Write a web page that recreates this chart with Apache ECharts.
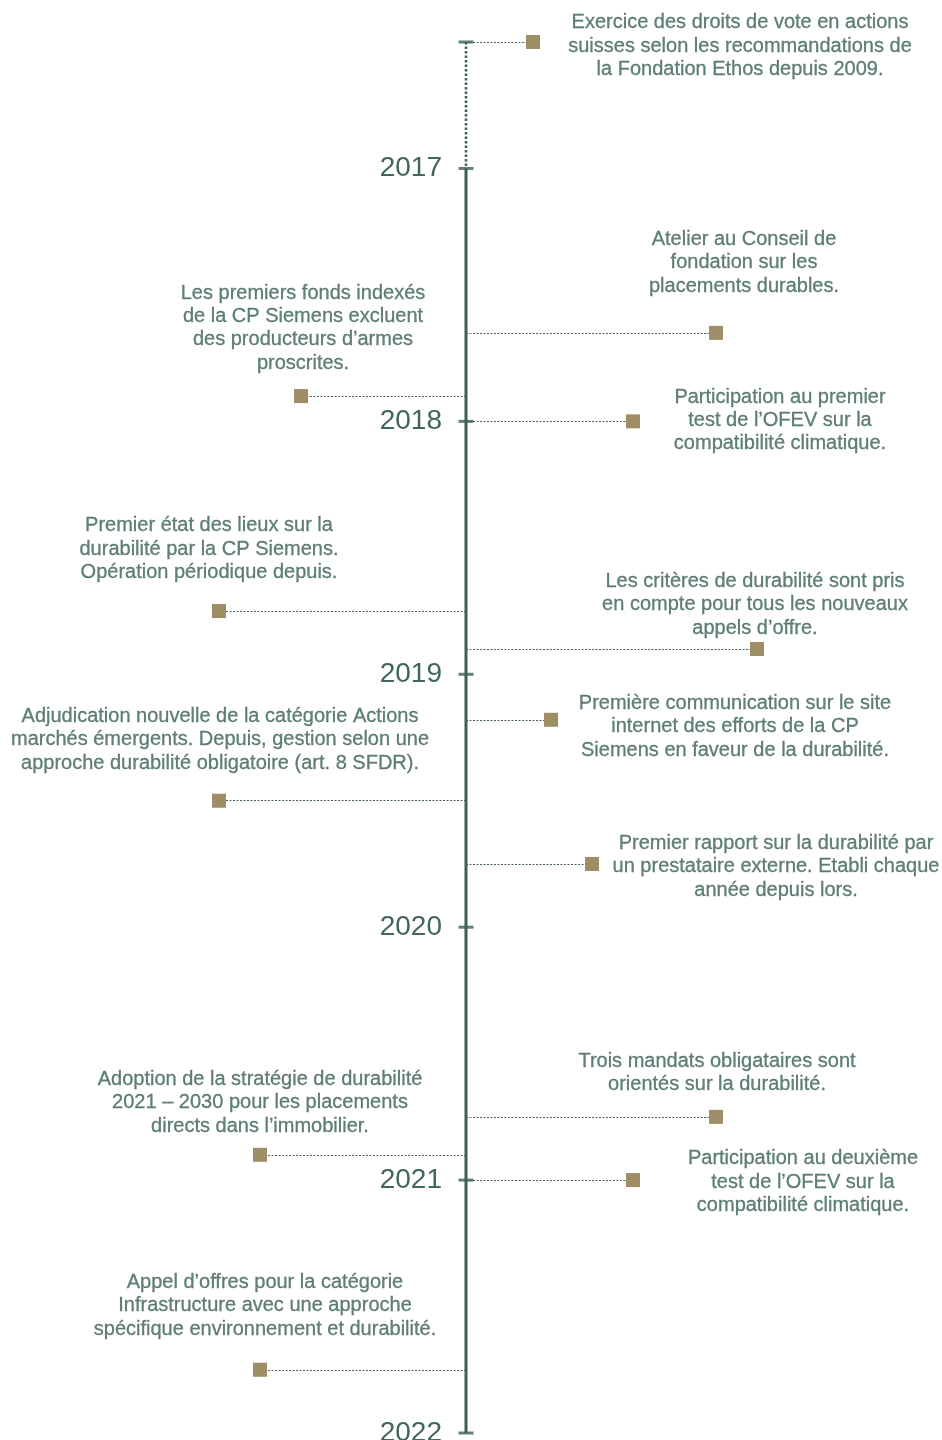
<!DOCTYPE html>
<html>
<head>
<meta charset="utf-8">
<script src="https://cdn.jsdelivr.net/npm/echarts@6/dist/echarts.min.js"></script>
<style>
  html, body { margin: 0; padding: 0; background: #fff; }
  #timeline { width: 942px; height: 1440px; }
</style>
</head>
<body>
<div id="timeline"></div>
<script>
// dates of the events (decimal years)
const eventDates = [2016.5, 2017.65, 2017.9, 2018.0, 2018.75, 2018.9, 2019.18, 2019.5, 2019.75, 2020.75, 2020.9, 2021.0, 2021.75]
const eventTexts = [
  'Exercice des droits de vote en actions\nsuisses selon les recommandations de\nla Fondation Ethos depuis 2009.',
  'Atelier au Conseil de\nfondation sur les\nplacements durables.',
  'Les premiers fonds indexés\nde la CP Siemens excluent\ndes producteurs d\u2019armes\nproscrites.',
  'Participation au premier\ntest de l\u2019OFEV sur la\ncompatibilité climatique.',
  'Premier état des lieux sur la\ndurabilité par la CP Siemens.\nOpération périodique depuis.',
  'Les critères de durabilité sont pris\nen compte pour tous les nouveaux\nappels d\u2019offre.',
  'Première communication sur le site\ninternet des efforts de la CP\nSiemens en faveur de la durabilité.',
  'Adjudication nouvelle de la catégorie Actions\nmarchés émergents. Depuis, gestion selon une\napproche durabilité obligatoire (art. 8 SFDR).',
  'Premier rapport sur la durabilité par\nun prestataire externe. Etabli chaque\nannée depuis lors.',
  'Trois mandats obligataires sont\norientés sur la durabilité.',
  'Adoption de la stratégie de durabilité\n2021 \u2013 2030 pour les placements\ndirects dans l\u2019immobilier.',
  'Participation au deuxième\ntest de l\u2019OFEV sur la\ncompatibilité climatique.',
  'Appel d\u2019offres pour la catégorie\nInfrastructure avec une approche\nspécifique environnement et durabilité.'
]
const tickYears = [2016.5, 2017, 2018, 2019, 2020, 2021, 2022]

// layout only: how far each marker sits from the axis (px) and where its text goes
const reach = [67, 250, -165, 167, -247, 291, 85, -247, 126, 250, -206, 167, -206]
const labelShift = [
  [207, 4], [28, -70], [2, -68], [147, -1], [-10, -62], [-2, -44], [184, 7],
  [1, -61], [184, 3], [1, -44], [0, -52], [170, 2], [5, -64]
]

const GREEN = '#3c5f50'
const TEXT = '#3a6251'
const GOLD = '#86703f'
const FONT = '"Liberation Sans", Arial, sans-serif'

const chart = echarts.init(document.getElementById('timeline'))

let markers = eventDates.map((d, i) => ({
  value: [reach[i], d],
  label: { offset: labelShift[i], formatter: eventTexts[i] }
}))
// connectors stop at the marker's inner edge
let connectors = eventDates.map((d, i) => ({
  coords: [[0, d], [reach[i] - Math.sign(reach[i]) * 7, d]]
}))

chart.setOption({
  animation: false,
  grid: { left: 0, right: 0, top: 42, bottom: 7, outerBoundsMode: 'none', containLabel: false },
  xAxis: { type: 'value', min: -466, max: 476, show: false },
  yAxis: {
    type: 'value',
    inverse: true,
    min: 2016.5,
    max: 2022,
    interval: 0.5,
    offset: -466,
    axisLine: { show: false },
    axisTick: { show: false },
    splitLine: { show: false },
    axisLabel: {
      margin: 24,
      fontSize: 28,
      fontFamily: FONT,
      color: '#41665a',
      formatter: v => (Number.isInteger(v) ? String(v) : '')
    }
  },
  series: [
    {
      // dotted stretch before 2017
      type: 'line',
      data: [[0, 2016.5], [0, 2017]],
      symbol: 'none',
      silent: true,
      lineStyle: { color: GREEN, width: 2.5, type: [2.5, 2] }
    },
    {
      type: 'line',
      data: [[0, 2017], [0, 2022]],
      symbol: 'none',
      silent: true,
      lineStyle: { color: GREEN, width: 3 }
    },
    {
      type: 'lines',
      coordinateSystem: 'cartesian2d',
      data: connectors,
      silent: true,
      z: 1,
      lineStyle: { color: '#466357', width: 1, type: [2, 1.5], opacity: 1 }
    },
    {
      // year ticks crossing the axis
      type: 'scatter',
      data: tickYears.map(y => [0, y]),
      symbol: 'rect',
      symbolSize: [15, 3],
      silent: true,
      z: 3,
      itemStyle: { color: GREEN }
    },
    {
      type: 'scatter',
      data: markers,
      symbol: 'rect',
      symbolSize: 14,
      silent: true,
      z: 4,
      itemStyle: { color: GOLD },
      label: {
        show: true,
        position: 'inside',
        align: 'center',
        verticalAlign: 'middle',
        fontSize: 20,
        lineHeight: 23.3,
        fontFamily: FONT,
        color: TEXT,
        textBorderColor: TEXT,
        textBorderWidth: 0.3
      }
    }
  ]
})
</script>
</body>
</html>
